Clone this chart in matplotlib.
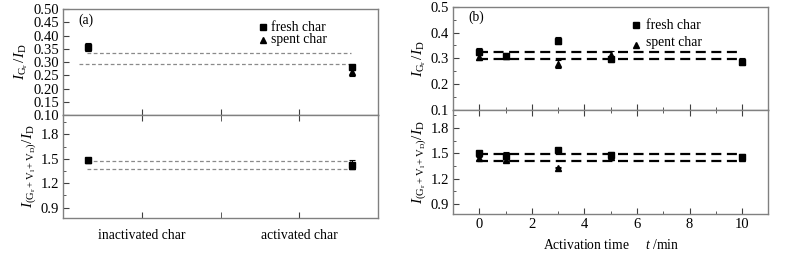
import matplotlib
matplotlib.use("Agg")
import matplotlib.pyplot as plt
import numpy as np

plt.rcParams["font.family"] = ["Liberation Serif", "DejaVu Serif"]
plt.rcParams["mathtext.fontset"] = "custom"
plt.rcParams["mathtext.rm"] = "Liberation Serif"
plt.rcParams["mathtext.it"] = "Liberation Serif:italic"
plt.rcParams["font.size"] = 10

# panel (a): two samples
a_x = [0.32, 3.67]
a_ticklabels = ["inactivated char", "activated char"]
a_gr_fresh = [0.358, 0.280]
a_gr_fresh_err = [0.015, 0.010]
a_gr_spent = [0.355, 0.264]
a_gr_spent_err = [0.012, 0.017]
a_gr_lines = [0.335, 0.291]
a_all_fresh = [1.49, 1.43]
a_all_fresh_err = [0.02, 0.05]
a_all_spent = [1.49, 1.41]
a_all_spent_err = [0.02, 0.03]
a_all_lines = [1.47, 1.38]

# panel (b): activation time
b_t = [0, 1, 3, 5, 10]
b_gr_fresh = [0.326, 0.310, 0.368, 0.297, 0.286]
b_gr_fresh_err = [0.014, 0.010, 0.014, 0.010, 0.012]
b_gr_spent = [0.304, 0.310, 0.278, 0.312, 0.290]
b_gr_spent_err = [0.010, 0.008, 0.017, 0.015, 0.012]
b_gr_lines = [0.326, 0.296]
b_all_fresh = [1.50, 1.47, 1.54, 1.48, 1.46]
b_all_fresh_err = [0.02, 0.04, 0.02, 0.03, 0.03]
b_all_spent = [1.44, 1.42, 1.33, 1.45, 1.44]
b_all_spent_err = [0.02, 0.02, 0.01, 0.03, 0.02]
b_all_lines = [1.49, 1.41]

SPINE = "#808080"
label_top = r"$I_{\mathrm{G_r}}\,/I_{\mathrm{D}}$"
label_bot = r"$I_{(\mathrm{G_r+V_l+V_D})}/I_{\mathrm{D}}$"
TXT = 9.8


def style(ax):
    for sp in ax.spines.values():
        sp.set_color(SPINE)
        sp.set_linewidth(1.0)
    ax.tick_params(direction="in", which="both", color="#404040",
                   labelsize=10.5, pad=3)
    ax.tick_params(which="major", length=4)
    ax.tick_params(which="minor", length=2)


def points(ax, x, fresh, ferr, spent, serr, ms=5):
    ax.errorbar(x, fresh, yerr=ferr, fmt="s", color="black", ms=ms,
                elinewidth=0.8, capsize=2.5, capthick=0.8, zorder=3)
    ax.errorbar(x, spent, yerr=serr, fmt="^", color="black", ms=ms,
                elinewidth=0.8, capsize=2.5, capthick=0.8, zorder=3)


fig = plt.figure(figsize=(7.88, 2.59), dpi=100)

# ---- panel (a)
ax1 = fig.add_axes([0.080, 0.556, 0.400, 0.409])
ax2 = fig.add_axes([0.080, 0.158, 0.400, 0.398])
for ax in (ax1, ax2):
    style(ax)
    ax.set_xlim(0, 4)
    ax.set_xticks([1, 2, 3])

points(ax1, a_x, a_gr_fresh, a_gr_fresh_err, a_gr_spent, a_gr_spent_err)
ax1.hlines(a_gr_lines[0], 0.30, 3.65, colors="#8a8a8a", linestyles=(0, (3, 2)), lw=0.9)
ax1.hlines(a_gr_lines[1], 0.20, 3.63, colors="#8a8a8a", linestyles=(0, (3, 2)), lw=0.9)
ax1.set_ylim(0.10, 0.50)
ax1.set_yticks(np.arange(0.10, 0.501, 0.05))
ax1.set_yticklabels([f"{v:.2f}" for v in np.arange(0.10, 0.501, 0.05)])
ax1.tick_params(axis="x", labelbottom=False)
ax1.set_ylabel(label_top, fontsize=11, labelpad=2)
ax1.text(0.05, 0.86, "(a)", transform=ax1.transAxes, fontsize=TXT)
ax1.plot([2.54], [0.432], "s", color="black", ms=4)
ax1.plot([2.54], [0.383], "^", color="black", ms=4.5)
ax1.text(2.64, 0.432, "fresh char", va="center", fontsize=TXT)
ax1.text(2.64, 0.386, "spent char", va="center", fontsize=TXT)

points(ax2, a_x, a_all_fresh, a_all_fresh_err, a_all_spent, a_all_spent_err)
ax2.hlines(a_all_lines[0], 0.30, 3.65, colors="#8a8a8a", linestyles=(0, (3, 2)), lw=0.9)
ax2.hlines(a_all_lines[1], 0.30, 3.63, colors="#8a8a8a", linestyles=(0, (3, 2)), lw=0.9)
ax2.set_ylim(0.77, 2.04)
ax2.set_yticks([0.9, 1.2, 1.5, 1.8])
ax2.set_yticks([1.05, 1.35, 1.65, 1.95], minor=True)
ax2.tick_params(axis="x", top=True, labelsize=TXT, pad=8)
ax2.set_xticks([1, 3], minor=False)
ax2.set_xticks([2], minor=True)
ax2.tick_params(axis="x", which="minor", length=4, top=True)
ax2.set_xticklabels(a_ticklabels)
ax2.set_ylabel(label_bot, fontsize=11, labelpad=2)

# ---- panel (b)
bx1 = fig.add_axes([0.575, 0.575, 0.400, 0.399])
bx2 = fig.add_axes([0.575, 0.173, 0.400, 0.402])
for ax in (bx1, bx2):
    style(ax)
    ax.set_xlim(-1, 11)
    ax.set_xticks(range(0, 11, 2))
    ax.set_xticks(range(1, 11, 2), minor=True)

dash = (0, (4.5, 2.5))
points(bx1, b_t, b_gr_fresh, b_gr_fresh_err, b_gr_spent, b_gr_spent_err, ms=4.5)
for yv in b_gr_lines:
    bx1.hlines(yv, -0.05, 9.9, colors="black", linestyles=dash, lw=1.6)
bx1.set_ylim(0.1, 0.5)
bx1.set_yticks([0.1, 0.2, 0.3, 0.4, 0.5])
bx1.set_yticks([0.15, 0.25, 0.35, 0.45], minor=True)
bx1.tick_params(axis="x", which="both", labelbottom=False)
bx1.set_ylabel(label_top, fontsize=11, labelpad=2)
bx1.text(0.05, 0.86, "(b)", transform=bx1.transAxes, fontsize=TXT)
bx1.plot([5.95], [0.429], "s", color="black", ms=4)
bx1.plot([5.95], [0.352], "^", color="black", ms=4.5)
bx1.text(6.33, 0.429, "fresh char", va="center", fontsize=TXT)
bx1.text(6.33, 0.36, "spent char", va="center", fontsize=TXT)

points(bx2, b_t, b_all_fresh, b_all_fresh_err, b_all_spent, b_all_spent_err, ms=4.5)
for yv in b_all_lines:
    bx2.hlines(yv, -0.05, 9.9, colors="black", linestyles=dash, lw=1.6)
bx2.set_ylim(0.78, 2.01)
bx2.set_yticks([0.9, 1.2, 1.5, 1.8])
bx2.set_yticks([1.05, 1.35, 1.65, 1.95], minor=True)
bx2.tick_params(axis="x", which="both", top=True)
bx2.set_ylabel(label_bot, fontsize=11, labelpad=2)
bx2.set_xlabel(r"Activation time     $t$ /min", fontsize=TXT, labelpad=5)

fig.savefig("out.png", dpi=100)
